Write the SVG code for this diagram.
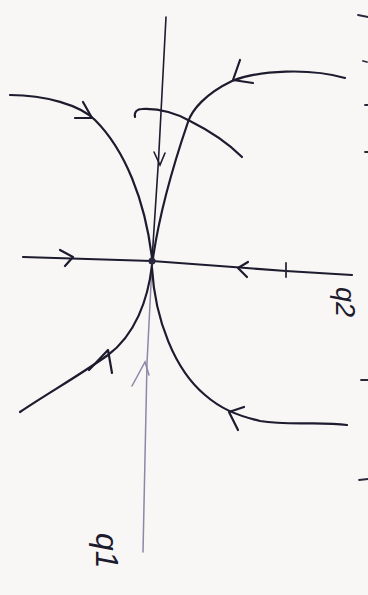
<svg xmlns="http://www.w3.org/2000/svg" width="368" height="595" viewBox="0 0 368 595">
<style>
.s{fill:none;stroke:#1d1b2e;stroke-width:2.2;stroke-linecap:round;stroke-linejoin:round}
.t{fill:none;stroke:#1d1b2e;stroke-width:1.6;stroke-linecap:round}
.l{fill:none;stroke:#8e87a6;stroke-width:1.5;stroke-linecap:round}
.m{fill:none;stroke:#2a2838;stroke-width:1.8;stroke-linecap:round}
.lab{font-family:"Liberation Sans",Arial,sans-serif;font-style:italic;fill:#1d1b2e}
</style>
<rect width="368" height="595" fill="#f8f7f5"/>
<g id="connectors">
<path class="t" d="M166,17 L158.5,160 L152,260"/>
<path class="l" d="M152,264 L147,363 L143,552"/>
<path class="s" d="M23,257 L152,261 L233,267 L286,271 L352,275"/>
<path class="s" d="M10,95 C45,95 80,105 95,120 C125,150 145,200 152,258"/>
<path class="s" d="M345,78 C310,68 260,70 232,81 C205,94 192,110 188,122 C175,160 160,210 153,258"/>
<path class="s" d="M135,117 C134,112 137,109 142,109 C160,108 178,114 190,121 C210,131 228,143 242,157"/>
<path class="s" d="M152,265 C148,300 135,335 108,355 C80,375 45,395 20,412"/>
<path class="s" d="M152,268 C155,320 175,370 205,395 C220,408 235,415 260,421 C290,426 320,421 347,425"/>
<path class="m" d="M286,263 L286,277"/>
<path class="s" d="M60,250 L73,257 L65,266"/>
<path class="s" d="M248,262 L238,268 L247,277"/>
<path class="t" d="M154,152 L160,165 L165,153"/>
<path class="s" d="M83,102 L92,118 L75,118"/>
<path class="s" d="M240,60 L233,80 L253,83"/>
<path class="s" d="M89,370 L108,350 L112,373"/>
<path class="l" d="M132,386 L145,362 L149,375"/>
<path class="s" d="M244,407 L229,412 L238,430"/>
</g>
<g id="node-center"><circle cx="152" cy="261" r="3.5" fill="#2a2840"/></g>
<g id="label-q2"><text class="lab" font-size="27" transform="translate(336,287) rotate(90)">q2</text></g>
<g id="label-q1"><text class="lab" font-size="32" transform="translate(96,533) rotate(90)">q1</text></g>
<g id="edge-marks">
<path class="m" d="M358,15 L368,17"/>
<path class="m" d="M363,61 L367,62"/>
<path class="m" d="M365,105 L368,105"/>
<path class="m" d="M365,152 L368,152"/>
<path class="m" d="M361,380 L368,380"/>
<path class="m" d="M359,480 L368,479"/>
</g>
</svg>
